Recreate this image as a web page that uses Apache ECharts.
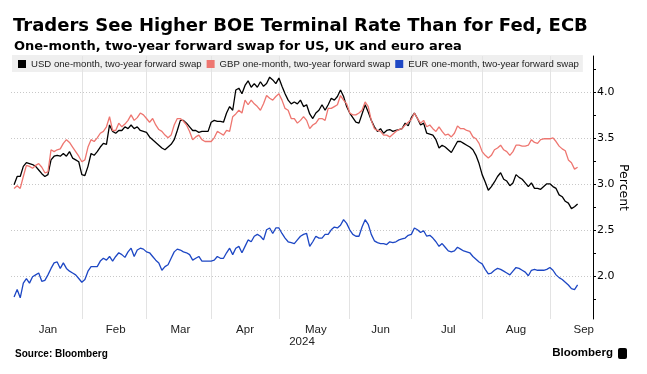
<!DOCTYPE html>
<html>
<head>
<meta charset="utf-8">
<script src="https://cdn.jsdelivr.net/npm/echarts@6/dist/echarts.min.js"></script>
<style>
html,body{margin:0;padding:0;background:#fff;}
#chart{width:647px;height:374px;}
</style>
</head>
<body>
<div id="chart"></div>
<script>
// ---- data (weekday observations, first value = 2024-01-02) ----
const firstDate = '2024-01-02';
const axisStart = '2024-01-01';
const axisEnd = '2024-09-20';
const seriesNames = ['USD one-month, two-year forward swap', 'GBP one-month, two-year forward swap', 'EUR one-month, two-year forward swap'];
const monthNames = ['Jan','Feb','Mar','Apr','May','Jun','Jul','Aug','Sep','Oct','Nov','Dec'];
const yLabelValues = [2.0, 2.5, 3.0, 3.5, 4.0];
const yTickValues = [1.75, 2.0, 2.25, 2.5, 2.75, 3.0, 3.25, 3.5, 3.75, 4.0, 4.25];

const usd = [
2.99,3.08,3.08,3.19,3.23,3.22,3.21,3.19,3.15,3.11,
3.08,3.10,3.26,3.30,3.31,3.30,3.33,3.30,3.35,3.28,
3.26,3.24,3.10,3.09,3.19,3.33,3.31,3.35,3.40,3.44,
3.43,3.64,3.57,3.55,3.58,3.58,3.62,3.60,3.64,3.60,
3.62,3.58,3.57,3.56,3.51,3.48,3.45,3.42,3.39,3.37,
3.40,3.43,3.48,3.58,3.69,3.69,3.66,3.62,3.58,3.58,
3.56,3.57,3.57,3.57,3.67,3.69,3.68,3.68,3.67,3.77,
3.84,3.80,4.02,4.04,3.98,4.07,4.12,4.05,4.09,4.05,
4.11,4.06,4.09,4.16,4.13,4.09,4.15,4.06,3.98,3.91,
3.87,3.89,3.87,3.91,3.84,3.86,3.76,3.71,3.77,3.80,
3.86,3.80,3.86,3.93,3.91,3.95,4.02,3.95,3.84,3.77,
3.72,3.67,3.66,3.76,3.86,3.78,3.69,3.62,3.57,3.60,
3.55,3.58,3.59,3.57,3.58,3.59,3.60,3.66,3.63,3.72,
3.77,3.71,3.64,3.66,3.55,3.54,3.53,3.48,3.39,3.42,
3.40,3.37,3.34,3.40,3.46,3.46,3.44,3.42,3.40,3.37,
3.31,3.22,3.10,3.02,2.93,2.97,3.02,3.08,3.12,3.05,
3.03,2.98,3.01,3.10,3.07,3.05,3.01,2.97,3.01,2.95,
2.95,2.94,2.97,3.00,3.00,2.97,2.95,2.88,2.86,2.81,
2.79,2.73,2.75,2.78
];
const gbp = [
2.95,2.98,2.95,3.08,3.20,3.19,3.17,3.20,3.22,3.18,
3.12,3.13,3.37,3.35,3.37,3.38,3.44,3.48,3.45,3.40,
3.35,3.30,3.24,3.26,3.40,3.48,3.46,3.50,3.55,3.57,
3.62,3.73,3.58,3.58,3.66,3.62,3.65,3.69,3.75,3.69,
3.72,3.77,3.75,3.71,3.67,3.71,3.64,3.59,3.57,3.53,
3.50,3.53,3.64,3.71,3.71,3.68,3.64,3.57,3.48,3.51,
3.53,3.48,3.46,3.46,3.46,3.50,3.57,3.55,3.53,3.58,
3.57,3.73,3.76,3.80,3.77,3.91,3.86,3.91,3.87,3.84,
3.80,3.87,3.96,3.93,3.91,3.95,3.98,3.91,3.82,3.80,
3.71,3.71,3.66,3.69,3.73,3.69,3.60,3.64,3.66,3.71,
3.71,3.69,3.82,3.82,3.84,3.86,3.96,3.91,3.87,3.77,
3.75,3.75,3.77,3.80,3.89,3.84,3.69,3.60,3.58,3.57,
3.53,3.53,3.51,3.54,3.57,3.59,3.60,3.64,3.67,3.70,
3.77,3.71,3.66,3.69,3.62,3.64,3.60,3.57,3.62,3.57,
3.53,3.54,3.51,3.55,3.63,3.60,3.60,3.58,3.57,3.51,
3.49,3.44,3.35,3.31,3.28,3.31,3.37,3.39,3.42,3.37,
3.35,3.31,3.35,3.42,3.42,3.41,3.41,3.42,3.48,3.45,
3.44,3.48,3.49,3.49,3.49,3.50,3.46,3.41,3.38,3.36,
3.26,3.23,3.16,3.18
];
const eur = [
1.77,1.85,1.76,1.92,1.97,1.92,1.99,2.01,2.03,1.94,
1.95,2.01,2.08,2.14,2.15,2.08,2.14,2.08,2.05,2.03,
2.01,1.97,1.93,1.96,2.05,2.10,2.10,2.10,2.16,2.19,
2.17,2.21,2.16,2.21,2.25,2.23,2.20,2.26,2.30,2.21,
2.28,2.30,2.29,2.26,2.25,2.21,2.17,2.14,2.06,2.10,
2.12,2.19,2.26,2.29,2.28,2.26,2.25,2.23,2.17,2.19,
2.21,2.16,2.16,2.16,2.16,2.17,2.21,2.19,2.19,2.25,
2.30,2.23,2.30,2.32,2.25,2.32,2.39,2.37,2.43,2.45,
2.43,2.39,2.50,2.52,2.46,2.52,2.52,2.46,2.41,2.37,
2.36,2.35,2.39,2.43,2.45,2.46,2.32,2.37,2.43,2.41,
2.41,2.45,2.45,2.50,2.53,2.52,2.55,2.61,2.57,2.50,
2.45,2.43,2.43,2.53,2.61,2.56,2.45,2.38,2.36,2.35,
2.35,2.34,2.37,2.36,2.37,2.39,2.40,2.41,2.44,2.45,
2.52,2.50,2.47,2.49,2.43,2.44,2.41,2.37,2.32,2.35,
2.31,2.27,2.26,2.27,2.31,2.29,2.27,2.26,2.25,2.21,
2.18,2.15,2.13,2.07,2.02,2.03,2.06,2.08,2.07,2.05,
2.03,2.01,2.05,2.09,2.08,2.06,2.04,2.00,2.06,2.07,
2.06,2.06,2.06,2.07,2.09,2.06,2.01,1.98,1.96,1.93,
1.90,1.86,1.85,1.90
];

// ---- weekday category axis ----
const dates = [];
{
  const d = new Date(axisStart + 'T00:00:00Z');
  const end = new Date(axisEnd + 'T00:00:00Z');
  while (d <= end) {
    const wd = d.getUTCDay();
    if (wd !== 0 && wd !== 6) dates.push(d.toISOString().slice(0, 10));
    d.setUTCDate(d.getUTCDate() + 1);
  }
}
const offset = dates.indexOf(firstDate);
const toSeries = arr => dates.map((_, i) => {
  const k = i - offset;
  return (k >= 0 && k < arr.length) ? arr[k] : null;
});
const monthOf = s => +s.slice(5, 7);
const monthStarts = [];
dates.forEach((s, i) => { if (i === 0 || monthOf(s) !== monthOf(dates[i - 1])) monthStarts.push(i); });
const labelIdx = {};
monthStarts.forEach((s, k) => {
  const next = k + 1 < monthStarts.length ? monthStarts[k + 1] : s + 22;
  labelIdx[Math.round((s + next) / 2)] = monthNames[monthOf(dates[s]) - 1];
});

const FONT = "'DejaVu Sans', sans-serif";
const SANS = "'Liberation Sans', Arial, sans-serif";
const colors = ['#000000', '#ee7670', '#1d47c4'];

const chart = echarts.init(document.getElementById('chart'), null, { renderer: 'canvas' });
chart.setOption({
  animation: false,
  backgroundColor: '#ffffff',
  color: colors,
  title: [
    { text: 'Traders See Higher BOE Terminal Rate Than for Fed, ECB', left: 13, top: 17,
      textStyle: { fontFamily: FONT, fontWeight: 'bold', fontSize: 18, color: '#000' }, padding: 0 },
    { text: 'One-month, two-year forward swap for US, UK and euro area', left: 14, top: 40,
      textStyle: { fontFamily: FONT, fontWeight: 'bold', fontSize: 13, color: '#000' }, padding: 0 },
    { text: 'Source: Bloomberg', left: 15, top: 349,
      textStyle: { fontFamily: SANS, fontWeight: 'bold', fontSize: 10, color: '#000' }, padding: 0 },
    { text: 'Bloomberg', right: 34, top: 347,
      textStyle: { fontFamily: SANS, fontWeight: 'bold', fontSize: 11.5, color: '#000' }, padding: 0 }
  ],
  graphic: [
    { type: 'rect', right: 20, top: 348, shape: { width: 9, height: 11, r: 2 }, style: { fill: '#000' } }
  ],
  legend: {
    left: 12, top: 55,
    padding: [4, 4, 3, 6],
    backgroundColor: 'rgba(228,228,228,0.6)',
    itemWidth: 8, itemHeight: 8, itemGap: 5,
    icon: 'rect',
    textStyle: { fontFamily: SANS, fontSize: 9.6, color: '#222' },
    data: seriesNames
  },
  grid: { left: 11, right: 54, top: 56, bottom: 55, containLabel: false },
  xAxis: {
    type: 'category',
    data: dates,
    boundaryGap: false,
    name: '2024',
    nameLocation: 'middle',
    nameGap: 17,
    nameMoveOverlap: false,
    nameTextStyle: { fontFamily: SANS, fontSize: 11.5, color: '#222' },
    axisLine: { show: false },
    axisTick: { show: false },
    axisLabel: {
      interval: (i) => labelIdx[i] !== undefined,
      formatter: (v, i) => labelIdx[i] || '',
      fontFamily: SANS, fontSize: 11.5, color: '#222', margin: 5
    },
    splitLine: {
      show: true,
      interval: (i) => i > 0 && monthStarts.indexOf(i) >= 0,
      lineStyle: { color: '#e3e3e3', width: 1 }
    }
  },
  yAxis: {
    type: 'value',
    position: 'right',
    min: 1.53, max: 4.39,
    name: 'Percent',
    nameLocation: 'middle',
    nameRotate: -90,
    nameGap: 24,
    nameMoveOverlap: false,
    nameTextStyle: { fontFamily: FONT, fontSize: 12.5, color: '#000' },
    axisLine: { show: true, lineStyle: { color: '#000', width: 1 } },
    axisTick: { show: true, inside: false, length: 3, customValues: yTickValues, lineStyle: { color: '#000' } },
    axisLabel: { customValues: yLabelValues, formatter: v => v.toFixed(1), fontFamily: FONT, fontSize: 11, color: '#000', margin: 4 },
    splitLine: { show: true, lineStyle: { color: ['rgba(0,0,0,0)', '#c8c8c8'], type: [1, 2], width: 1 } }
  },
  series: [
    { name: seriesNames[0], type: 'line', data: toSeries(usd), showSymbol: false, lineStyle: { width: 1.3, color: colors[0] } },
    { name: seriesNames[1], type: 'line', data: toSeries(gbp), showSymbol: false, lineStyle: { width: 1.3, color: colors[1] } },
    { name: seriesNames[2], type: 'line', data: toSeries(eur), showSymbol: false, lineStyle: { width: 1.3, color: colors[2] } }
  ]
});
</script>
</body>
</html>
